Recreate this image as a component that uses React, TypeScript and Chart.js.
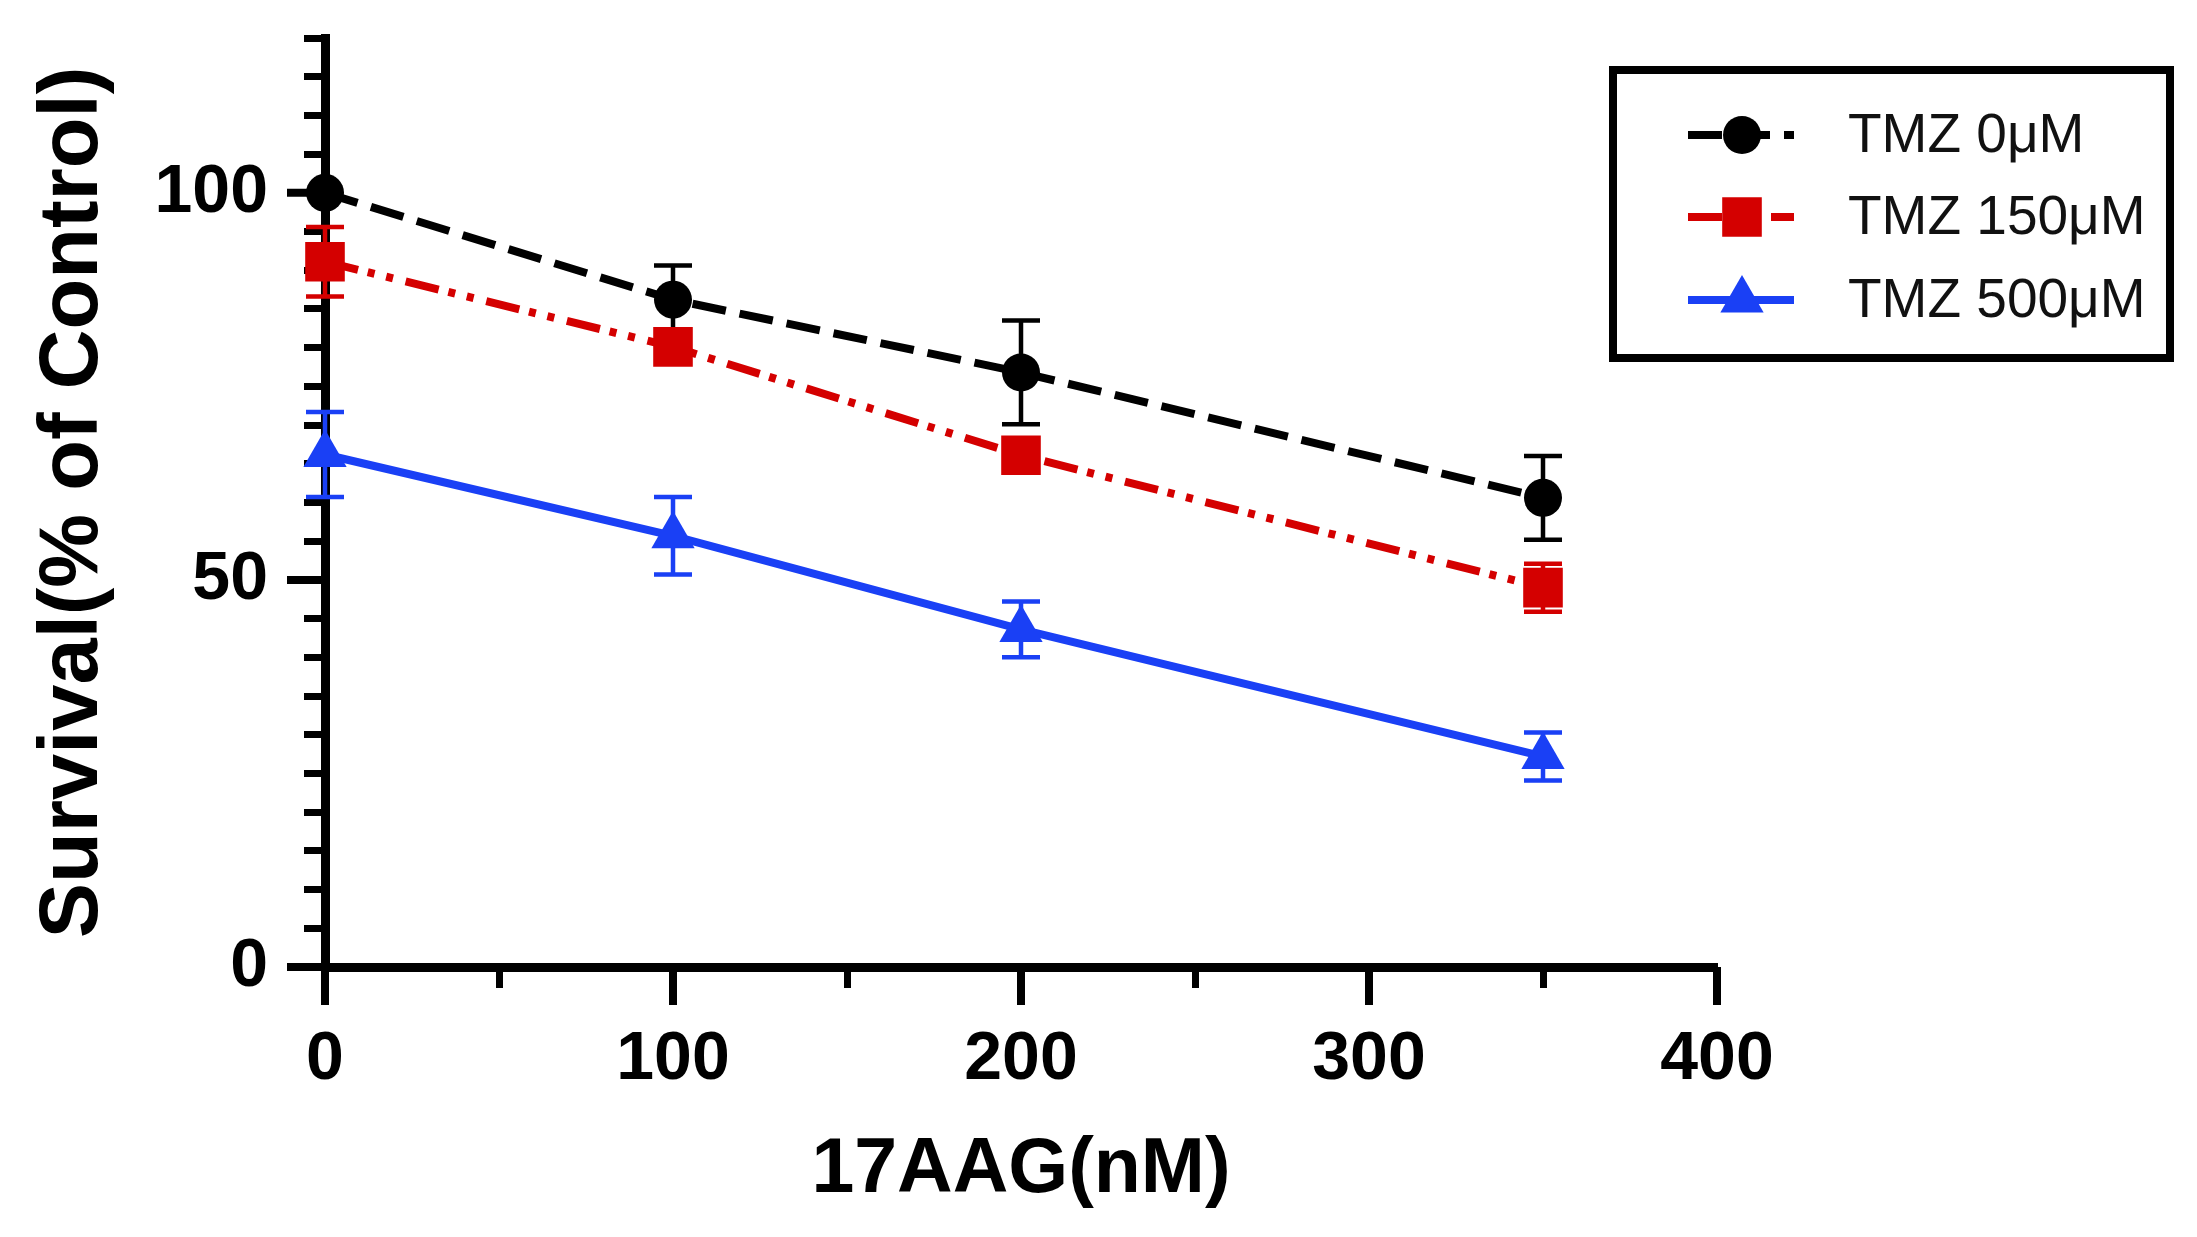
import { useEffect, useRef } from "react";
import { Chart, registerables } from "chart.js";

Chart.register(...registerables);

// 17AAG dose (nM) on x, survival (% of control) on y
const doses = [0, 100, 200, 350];
const seriesNames = ["TMZ 0μM", "TMZ 150μM", "TMZ 500μM"];
const tmz0 = [100, 86.2, 76.8, 60.6];
const tmz0Err = [0, 4.4, 6.7, 5.4];
const tmz150 = [91.1, 80.1, 66.1, 49.0];
const tmz150Err = [4.5, 1.8, 1.5, 3.1];
const tmz500 = [66.2, 55.7, 43.6, 27.2];
const tmz500Err = [5.5, 5.0, 3.6, 3.1];
const xLabelled = [0, 100, 200, 300, 400];
const yLabelled = [0, 50, 100];

const FONT = "'Liberation Sans', Arial, sans-serif";
const BLACK = "#000000";
const RED = "#d40000";
const BLUE = "#1a40f5";

const errors = [tmz0Err, tmz150Err, tmz500Err];

function shape(ctx, style, x, y, r) {
  ctx.beginPath();
  if (style === "circle") {
    ctx.arc(x, y, r, 0, Math.PI * 2);
  } else if (style === "rect") {
    const s = r * Math.SQRT1_2;
    ctx.rect(x - s, y - s, 2 * s, 2 * s);
  } else {
    const a = (Math.PI * 2) / 3;
    ctx.moveTo(x, y - r);
    ctx.lineTo(x + Math.sin(a) * r, y - Math.cos(a) * r);
    ctx.lineTo(x + Math.sin(2 * a) * r, y - Math.cos(2 * a) * r);
    ctx.closePath();
  }
  ctx.fill();
}

// SEM bars, drawn behind the lines
const errorBars = {
  id: "errorBars",
  beforeDatasetsDraw(chart) {
    const { ctx } = chart;
    const y = chart.scales.y;
    ctx.save();
    chart.data.datasets.forEach((ds, i) => {
      const meta = chart.getDatasetMeta(i);
      const err = errors[i];
      ctx.strokeStyle = ds.borderColor;
      ctx.lineWidth = 4.5;
      meta.data.forEach((pt, j) => {
        if (!err[j]) return;
        const v = ds.data[j].y;
        const top = y.getPixelForValue(v + err[j]);
        const bot = y.getPixelForValue(v - err[j]);
        ctx.beginPath();
        ctx.moveTo(pt.x, top);
        ctx.lineTo(pt.x, bot);
        ctx.moveTo(pt.x - 19, top);
        ctx.lineTo(pt.x + 19, top);
        ctx.moveTo(pt.x - 19, bot);
        ctx.lineTo(pt.x + 19, bot);
        ctx.stroke();
      });
    });
    ctx.restore();
  },
};

// longer ticks at the labelled values
const majorTicks = {
  id: "majorTicks",
  afterDraw(chart) {
    const { ctx, chartArea } = chart;
    const xs = chart.scales.x;
    const ys = chart.scales.y;
    ctx.save();
    ctx.strokeStyle = BLACK;
    ctx.lineWidth = 8;
    xLabelled.forEach((v) => {
      const px = xs.getPixelForValue(v);
      ctx.beginPath();
      ctx.moveTo(px, chartArea.bottom);
      ctx.lineTo(px, chartArea.bottom + 38);
      ctx.stroke();
    });
    yLabelled.forEach((v) => {
      const py = ys.getPixelForValue(v);
      ctx.beginPath();
      ctx.moveTo(chartArea.left - 38, py);
      ctx.lineTo(chartArea.left, py);
      ctx.stroke();
    });
    ctx.restore();
  },
};

const boxLegend = {
  id: "boxLegend",
  afterDraw(chart) {
    const { ctx } = chart;
    ctx.save();
    ctx.strokeStyle = BLACK;
    ctx.lineWidth = 8;
    ctx.strokeRect(1613, 70, 557, 288);
    const rows = [135, 217, 300];
    chart.data.datasets.forEach((ds, i) => {
      const yy = rows[i];
      ctx.strokeStyle = ds.borderColor;
      ctx.fillStyle = ds.borderColor;
      ctx.lineWidth = 8;
      ctx.setLineDash(ds.borderDash || []);
      ctx.beginPath();
      ctx.moveTo(1688, yy);
      ctx.lineTo(1794, yy);
      ctx.stroke();
      ctx.setLineDash([]);
      shape(ctx, ds.pointStyle, 1742, yy, ds.pointRadius);
      ctx.fillStyle = "#111";
      ctx.font = `55px ${FONT}`;
      ctx.textBaseline = "middle";
      ctx.textAlign = "left";
      ctx.fillText(ds.label, 1848, yy + 2);
    });
    ctx.restore();
  },
};

export default function App() {
  const canvasRef = useRef(null);

  useEffect(() => {
    if (!canvasRef.current) return;
    const toPoints = (vals) => doses.map((d, i) => ({ x: d, y: vals[i] }));
    const chart = new Chart(canvasRef.current, {
      type: "line",
      data: {
        datasets: [
          {
            label: seriesNames[0],
            data: toPoints(tmz0),
            borderColor: BLACK,
            backgroundColor: BLACK,
            borderDash: [34, 14],
            borderWidth: 8,
            pointStyle: "circle",
            pointRadius: 19,
            pointBackgroundColor: BLACK,
            pointBorderWidth: 0,
            clip: false,
          },
          {
            label: seriesNames[1],
            data: toPoints(tmz150),
            borderColor: RED,
            backgroundColor: RED,
            borderDash: [34, 10, 7, 12, 7, 13],
            borderWidth: 8,
            pointStyle: "rect",
            pointRadius: 28,
            pointBackgroundColor: RED,
            pointBorderWidth: 0,
            clip: false,
          },
          {
            label: seriesNames[2],
            data: toPoints(tmz500),
            borderColor: BLUE,
            backgroundColor: BLUE,
            borderWidth: 8,
            pointStyle: "triangle",
            pointRadius: 25,
            pointBackgroundColor: BLUE,
            pointBorderWidth: 0,
            clip: false,
          },
        ],
      },
      options: {
        animation: false,
        responsive: false,
        devicePixelRatio: 1,
        layout: { padding: { top: 38, right: 480, left: 0, bottom: 0 } },
        plugins: {
          legend: { display: false },
          tooltip: { enabled: false },
        },
        scales: {
          x: {
            type: "linear",
            min: 0,
            max: 400,
            afterFit: (s) => {
              s.height = 270;
              s.paddingLeft = 0;
              s.paddingRight = 0;
            },
            border: { display: true, color: BLACK, width: 9 },
            grid: {
              drawOnChartArea: false,
              drawTicks: true,
              tickLength: 21,
              tickWidth: 7,
              tickColor: BLACK,
            },
            ticks: {
              stepSize: 50,
              autoSkip: false,
              maxRotation: 0,
              padding: 31,
              color: BLACK,
              font: { family: FONT, size: 68, weight: "bold" },
              callback: (v) => (xLabelled.includes(v) ? String(v) : ""),
            },
            title: {
              display: true,
              text: "17AAG(nM)",
              color: BLACK,
              font: { family: FONT, size: 77, weight: "bold" },
              padding: { top: 0, bottom: 20 },
            },
          },
          y: {
            min: 0,
            max: 120,
            afterFit: (s) => {
              s.width = 325;
              s.paddingTop = 0;
              s.paddingBottom = 0;
            },
            border: { display: true, color: BLACK, width: 9 },
            grid: {
              drawOnChartArea: false,
              drawTicks: true,
              tickLength: 21,
              tickWidth: 7,
              tickColor: BLACK,
            },
            ticks: {
              stepSize: 5,
              autoSkip: false,
              padding: 36,
              color: BLACK,
              font: { family: FONT, size: 68, weight: "bold" },
              callback: (v) => (yLabelled.includes(v) ? String(v) : ""),
            },
            title: {
              display: true,
              text: "Survival(% of Control)",
              color: BLACK,
              font: { family: FONT, size: 83, weight: "bold" },
              padding: { top: 24, bottom: 0 },
            },
          },
        },
      },
      plugins: [errorBars, majorTicks, boxLegend],
    });

    return () => chart.destroy();
  }, []);

  return (
    <div style={{ position: "fixed", left: 0, top: 0, width: 2197, height: 1237, background: "#fff" }}>
      <canvas ref={canvasRef} width={2197} height={1237} />
    </div>
  );
}
